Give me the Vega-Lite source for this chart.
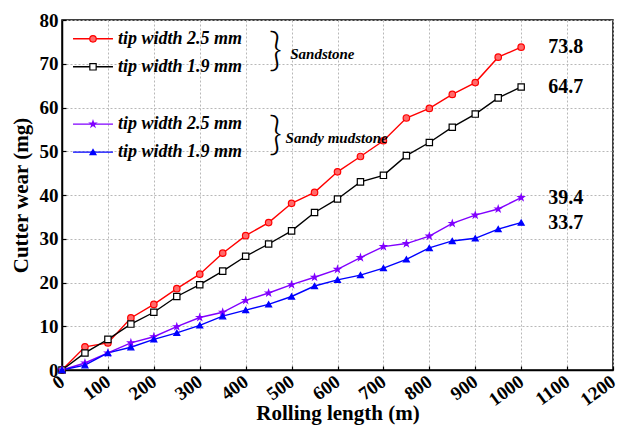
{
  "$schema": "https://vega.github.io/schema/vega-lite/v6.json",
  "width": 551,
  "height": 350,
  "autosize": {"type": "none"},
  "padding": {"left": 62, "top": 20, "right": 12, "bottom": 59},
  "background": "white",
  "config": {
    "view": {"stroke": "black", "strokeWidth": 1.5},
    "font": "Liberation Serif"
  },
  "datasets": {
    "wear": [
      {"s":"S25","x":0,"y":0},{"s":"S25","x":50,"y":5.3},{"s":"S25","x":100,"y":6.2},{"s":"S25","x":150,"y":11.9},{"s":"S25","x":200,"y":15.0},{"s":"S25","x":250,"y":18.6},{"s":"S25","x":300,"y":21.9},{"s":"S25","x":350,"y":26.7},{"s":"S25","x":400,"y":30.7},{"s":"S25","x":450,"y":33.7},{"s":"S25","x":500,"y":38.1},{"s":"S25","x":550,"y":40.6},{"s":"S25","x":600,"y":45.3},{"s":"S25","x":650,"y":48.8},{"s":"S25","x":700,"y":52.4},{"s":"S25","x":750,"y":57.6},{"s":"S25","x":800,"y":59.8},{"s":"S25","x":850,"y":63.0},{"s":"S25","x":900,"y":65.7},{"s":"S25","x":950,"y":71.5},{"s":"S25","x":1000,"y":73.8},
      {"s":"S19","x":0,"y":0},{"s":"S19","x":50,"y":3.9},{"s":"S19","x":100,"y":7.0},{"s":"S19","x":150,"y":10.5},{"s":"S19","x":200,"y":13.2},{"s":"S19","x":250,"y":16.8},{"s":"S19","x":300,"y":19.5},{"s":"S19","x":350,"y":22.6},{"s":"S19","x":400,"y":26.0},{"s":"S19","x":450,"y":28.8},{"s":"S19","x":500,"y":31.8},{"s":"S19","x":550,"y":36.0},{"s":"S19","x":600,"y":39.1},{"s":"S19","x":650,"y":43.0},{"s":"S19","x":700,"y":44.5},{"s":"S19","x":750,"y":49.0},{"s":"S19","x":800,"y":52.0},{"s":"S19","x":850,"y":55.5},{"s":"S19","x":900,"y":58.5},{"s":"S19","x":950,"y":62.2},{"s":"S19","x":1000,"y":64.7},
      {"s":"M25","x":0,"y":0},{"s":"M25","x":50,"y":1.6},{"s":"M25","x":100,"y":3.9},{"s":"M25","x":150,"y":6.2},{"s":"M25","x":200,"y":7.6},{"s":"M25","x":250,"y":9.9},{"s":"M25","x":300,"y":12.0},{"s":"M25","x":350,"y":13.2},{"s":"M25","x":400,"y":15.9},{"s":"M25","x":450,"y":17.6},{"s":"M25","x":500,"y":19.5},{"s":"M25","x":550,"y":21.2},{"s":"M25","x":600,"y":23.0},{"s":"M25","x":650,"y":25.7},{"s":"M25","x":700,"y":28.2},{"s":"M25","x":750,"y":28.9},{"s":"M25","x":800,"y":30.6},{"s":"M25","x":850,"y":33.5},{"s":"M25","x":900,"y":35.4},{"s":"M25","x":950,"y":36.8},{"s":"M25","x":1000,"y":39.4},
      {"s":"M19","x":0,"y":0},{"s":"M19","x":50,"y":1.1},{"s":"M19","x":100,"y":3.9},{"s":"M19","x":150,"y":5.2},{"s":"M19","x":200,"y":7.0},{"s":"M19","x":250,"y":8.5},{"s":"M19","x":300,"y":10.2},{"s":"M19","x":350,"y":12.3},{"s":"M19","x":400,"y":13.7},{"s":"M19","x":450,"y":15.0},{"s":"M19","x":500,"y":16.8},{"s":"M19","x":550,"y":19.2},{"s":"M19","x":600,"y":20.6},{"s":"M19","x":650,"y":21.7},{"s":"M19","x":700,"y":23.3},{"s":"M19","x":750,"y":25.3},{"s":"M19","x":800,"y":27.9},{"s":"M19","x":850,"y":29.5},{"s":"M19","x":900,"y":30.1},{"s":"M19","x":950,"y":32.2},{"s":"M19","x":1000,"y":33.7}
    ],
    "legend": [
      {"s":"S25","label":"tip width 2.5 mm","ly":75.7},
      {"s":"S19","label":"tip width 1.9 mm","ly":69.3},
      {"s":"M25","label":"tip width 2.5 mm","ly":56.2},
      {"s":"M19","label":"tip width 1.9 mm","ly":49.8}
    ],
    "groups": [
      {"g":"Sandstone","gy":72.2,"gx":497},
      {"g":"Sandy mudstone","gy":53.0,"gx":487}
    ]
  },
  "layer": [
    {
      "data": {"name": "wear"},
      "mark": {"type": "line", "strokeWidth": 1.4},
      "encoding": {
        "x": {
          "field": "x", "type": "quantitative",
          "scale": {"domain": [0, 1200], "nice": false},
          "axis": {
            "title": "Rolling length (m)",
            "titleFont": "Liberation Serif", "titleFontSize": 21, "titleFontWeight": "bold", "titleColor": "black",
            "titleBaseline": "alphabetic", "titleY": 49,
            "values": [0,50,100,150,200,250,300,350,400,450,500,550,600,650,700,750,800,850,900,950,1000,1050,1100,1150,1200],
            "labelExpr": "datum.value % 100 === 0 ? datum.label : ''",
            "format": "d",
            "labelFont": "Liberation Serif", "labelFontSize": 19, "labelFontWeight": "bold", "labelColor": "black",
            "labelAngle": -36, "labelAlign": "right", "labelBaseline": "middle", "labelPadding": 13,
            "tickSize": -4, "tickColor": "black", "tickWidth": 1.2,
            "domainColor": "black", "domainWidth": 1.5,
            "grid": true, "gridColor": "#b8b8b8", "gridDash": [2, 2], "gridWidth": 1,
            "gridOpacity": {"condition": {"test": "datum.value % 100 === 0", "value": 1}, "value": 0}
          }
        },
        "y": {
          "field": "y", "type": "quantitative",
          "scale": {"domain": [0, 80], "nice": false},
          "axis": {
            "title": "Cutter wear (mg)",
            "titleFont": "Liberation Serif", "titleFontSize": 21, "titleFontWeight": "bold", "titleColor": "black",
            "titleBaseline": "alphabetic", "titleX": -35,
            "values": [0,5,10,15,20,25,30,35,40,45,50,55,60,65,70,75,80],
            "labelExpr": "datum.value % 10 === 0 ? datum.label : ''",
            "labelFont": "Liberation Serif", "labelFontSize": 19, "labelFontWeight": "bold", "labelColor": "black", "labelPadding": 8,
            "tickSize": -4, "tickColor": "black", "tickWidth": 1.2,
            "domainColor": "black", "domainWidth": 1.5,
            "grid": true, "gridColor": "#b8b8b8", "gridDash": [2, 2], "gridWidth": 1,
            "gridOpacity": {"condition": {"test": "datum.value % 10 === 0", "value": 1}, "value": 0}
          }
        },
        "color": {
          "field": "s", "type": "nominal",
          "scale": {"domain": ["S25","S19","M25","M19"], "range": ["#ff0000","#000000","#8000ff","#0000ff"]},
          "legend": null
        },
        "detail": {"field": "s"}
      }
    },
    {
      "data": {"name": "wear"},
      "mark": {"type": "point", "filled": false, "strokeWidth": 1.2, "opacity": 1},
      "encoding": {
        "x": {"field": "x", "type": "quantitative"},
        "y": {"field": "y", "type": "quantitative"},
        "stroke": {
          "field": "s", "type": "nominal",
          "scale": {"domain": ["S25","S19","M25","M19"], "range": ["#ff0000","#000000","#8000ff","#0000ff"]},
          "legend": null
        },
        "fill": {
          "field": "s", "type": "nominal",
          "scale": {"domain": ["S25","S19","M25","M19"], "range": ["#ff6a6a","#ffffff","#8000ff","#0000ff"]},
          "legend": null
        },
        "shape": {
          "field": "s", "type": "nominal",
          "scale": {"domain": ["S25","S19","M25","M19"], "range": ["circle","square","M0,-1L0.2245,-0.309L0.951,-0.309L0.363,0.118L0.588,0.809L0,0.382L-0.588,0.809L-0.363,0.118L-0.951,-0.309L-0.2245,-0.309Z","triangle-up"]},
          "legend": null
        },
        "size": {
          "field": "s", "type": "nominal",
          "scale": {"domain": ["S25","S19","M25","M19"], "range": [42, 36, 90, 55]},
          "legend": null
        }
      }
    },
    {
      "data": {"name": "wear"},
      "transform": [{"filter": "datum.x === 1000"}],
      "mark": {"type": "text", "align": "left", "baseline": "middle", "dx": 27, "font": "Liberation Serif", "fontSize": 20, "fontWeight": "bold", "color": "black"},
      "encoding": {
        "x": {"field": "x", "type": "quantitative"},
        "y": {"field": "y", "type": "quantitative"},
        "text": {"field": "y", "type": "quantitative", "format": ".1f"}
      }
    },
    {
      "data": {"name": "legend"},
      "mark": {"type": "rule", "strokeWidth": 1.4},
      "encoding": {
        "x": {"datum": 24, "type": "quantitative"},
        "x2": {"datum": 111},
        "y": {"field": "ly", "type": "quantitative"},
        "color": {"field": "s", "type": "nominal", "legend": null}
      }
    },
    {
      "data": {"name": "legend"},
      "mark": {"type": "point", "filled": false, "strokeWidth": 1.2, "opacity": 1},
      "encoding": {
        "x": {"datum": 67.5, "type": "quantitative"},
        "y": {"field": "ly", "type": "quantitative"},
        "stroke": {"field": "s", "type": "nominal", "legend": null},
        "fill": {"field": "s", "type": "nominal", "legend": null},
        "shape": {"field": "s", "type": "nominal", "legend": null},
        "size": {"field": "s", "type": "nominal", "legend": null}
      }
    },
    {
      "data": {"name": "legend"},
      "mark": {"type": "text", "align": "left", "baseline": "middle", "font": "Liberation Serif", "fontSize": 18, "fontWeight": "bold", "fontStyle": "italic", "color": "black"},
      "encoding": {
        "x": {"datum": 122, "type": "quantitative"},
        "y": {"field": "ly", "type": "quantitative"},
        "text": {"field": "label", "type": "nominal"}
      }
    },
    {
      "data": {"name": "groups"},
      "mark": {"type": "text", "align": "center", "baseline": "middle", "font": "Lato", "fontSize": 46, "fontWeight": 300, "color": "black", "dy": -3},
      "encoding": {
        "x": {"datum": 465, "type": "quantitative"},
        "y": {"field": "gy", "type": "quantitative"},
        "text": {"value": "}"}
      }
    },
    {
      "data": {"name": "groups"},
      "mark": {"type": "text", "align": "left", "baseline": "middle", "font": "Liberation Serif", "fontSize": 15, "fontWeight": "bold", "fontStyle": "italic", "color": "black"},
      "encoding": {
        "x": {"field": "gx", "type": "quantitative"},
        "y": {"field": "gy", "type": "quantitative"},
        "text": {"field": "g", "type": "nominal"}
      }
    }
  ]
}
